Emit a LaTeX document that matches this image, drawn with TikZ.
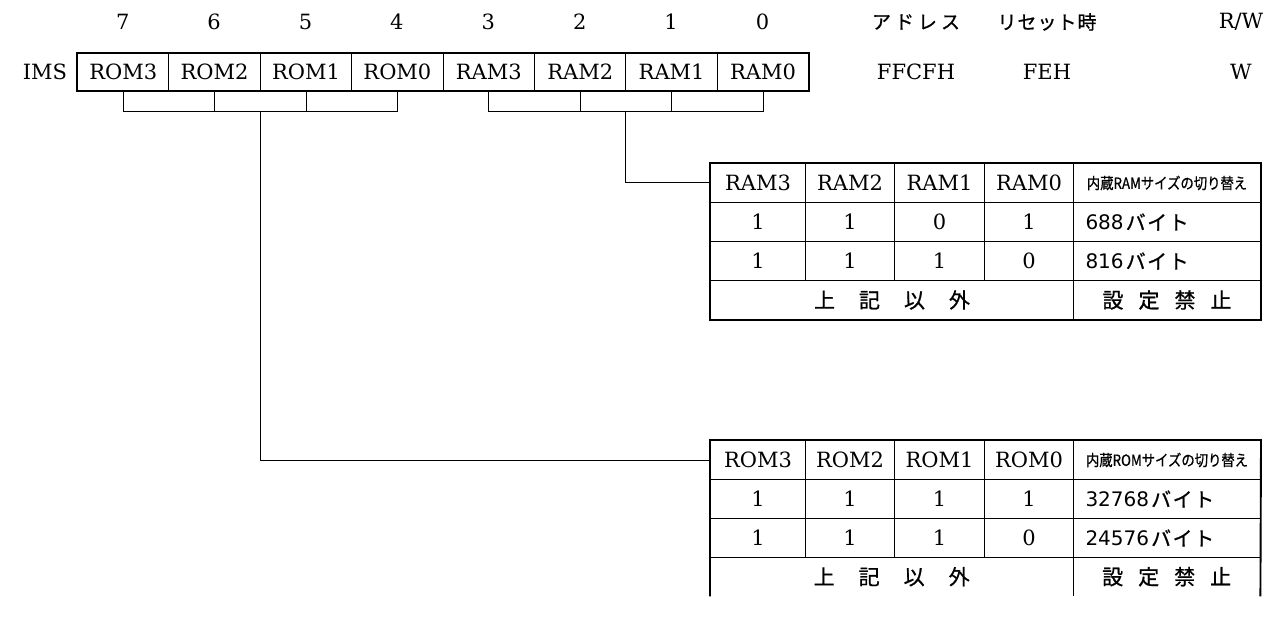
\documentclass[tikz,border=0pt]{standalone}
\usepackage{fontspec}
\setmainfont{DejaVu Serif}
\newfontfamily\jp{Noto Sans CJK JP}[FakeBold=0.8]
\newfontfamily\dsans{DejaVu Sans}
\usetikzlibrary{calc}
\newcommand{\byte}[1]{{\dsans\fontsize{20}{24}\selectfont #1}\hspace{2pt}バ\hspace{1.5pt}イ\hspace{1.5pt}ト}
\begin{document}
\begin{tikzpicture}[x=1pt,y=-1pt,
  every node/.style={inner sep=0pt, font=\fontsize{21}{24}\selectfont},
  reg/.style={draw, line width=1pt, minimum width=91.4pt, minimum height=37pt, anchor=north west},
  tcell/.style={draw, line width=1pt, minimum height=39pt, anchor=north west},
  ncell/.style={minimum height=39pt, anchor=north west},
  jpt/.style={font=\jp\fontsize{19}{22}\selectfont},
  jpb/.style={font=\jp\fontsize{21}{24}\selectfont},
  jph/.style={font=\jp\fontsize{15.5}{18}\selectfont},
  jpv/.style={font=\jp\fontsize{20}{24}\selectfont, text width=163pt, align=left, inner xsep=12pt},
  wire/.style={line width=1pt},
  frame/.style={line width=1.9pt}]
\useasboundingbox (0,0) rectangle (1276,617);

% register
\foreach \i/\t [count=\k from 0] in {7/ROM3,6/ROM2,5/ROM1,4/ROM0,3/RAM3,2/RAM2,1/RAM1,0/RAM0} {
  \node[reg] (r\i) at ({77+91.4*\k},53) {\t};
  \node (b\i) at ({122.7+91.4*\k},22) {\i};
}
\draw[frame] (r7.north west) rectangle (r0.south east);
\node (ims) at (45,72) {IMS};

% header info
\node[jpt] (addrh) at (916,22) {ア\hspace{4pt}ド\hspace{4pt}レ\hspace{4pt}ス};
\node[jpt] (rsth) at (1047,22) {リ\hspace{1pt}セ\hspace{1pt}ッ\hspace{1pt}ト\hspace{1pt}時};
\node (rwh) at (1241,22) {R/W};
\node (addr) at (916,72) {FFCFH};
\node (rst) at (1047,72) {FEH};
\node (rw) at (1241,72) {W};

% brackets
\coordinate (romj) at ($(r6.south)!0.5!(r5.south)+(0,21)$);
\coordinate (ramj) at ($(r2.south)!0.5!(r1.south)+(0,21)$);
\draw[wire] (r7.south) -- (r7.south |- romj) -- (r4.south |- romj) -- (r4.south);
\draw[wire] (r6.south) -- (r6.south |- romj);
\draw[wire] (r5.south) -- (r5.south |- romj);
\draw[wire] (r3.south) -- (r3.south |- ramj) -- (r0.south |- ramj) -- (r0.south);
\draw[wire] (r2.south) -- (r2.south |- ramj);
\draw[wire] (r1.south) -- (r1.south |- ramj);

% RAM table
\foreach \n/\x/\w in {3/710/95, 2/805/89, 1/894/90, 0/984/89}
  \node[tcell, minimum width=\w pt] (ramh\n) at (\x,163) {RAM\n};
\node[tcell, jph, minimum width=187pt] (ramhd) at (1073,163) {\scalebox{0.86}[1]{内蔵RAMサイズの切り替え}};
\foreach \r/\y/\a/\b/\c/\d/\v in {1/202/1/1/0/1/688, 2/241/1/1/1/0/816} {
  \node[tcell, minimum width=95pt] (ram\r a) at (710,\y) {\a};
  \node[tcell, minimum width=89pt] (ram\r b) at (805,\y) {\b};
  \node[tcell, minimum width=90pt] (ram\r c) at (894,\y) {\c};
  \node[tcell, minimum width=89pt] (ram\r d) at (984,\y) {\d};
  \node[tcell, jpv] (ram\r v) at (1073,\y) {\byte{\v}};
}
\node[tcell, jpb, minimum width=363pt] (ramx) at (710,280) {上\hspace{24pt}記\hspace{24pt}以\hspace{24pt}外};
\node[tcell, jpb, minimum width=187pt] (ramf) at (1073,280) {設\hspace{15pt}定\hspace{15pt}禁\hspace{15pt}止};
\draw[frame] (ramh3.north west) rectangle (ramf.south east);

% ROM table
\foreach \n/\x/\w in {3/710/95, 2/805/89, 1/894/90, 0/984/89}
  \node[tcell, minimum width=\w pt] (romh\n) at (\x,440) {ROM\n};
\node[tcell, jph, minimum width=187pt] (romhd) at (1073,440) {\scalebox{0.86}[1]{内蔵ROMサイズの切り替え}};
\foreach \r/\y/\a/\b/\c/\d/\v in {1/479/1/1/1/1/32768, 2/518/1/1/1/0/24576} {
  \node[tcell, minimum width=95pt] (rom\r a) at (710,\y) {\a};
  \node[tcell, minimum width=89pt] (rom\r b) at (805,\y) {\b};
  \node[tcell, minimum width=90pt] (rom\r c) at (894,\y) {\c};
  \node[tcell, minimum width=89pt] (rom\r d) at (984,\y) {\d};
  \node[tcell, jpv] (rom\r v) at (1073,\y) {\byte{\v}};
}
\node[ncell, jpb, minimum width=363pt] (romx) at (710,557) {上\hspace{24pt}記\hspace{24pt}以\hspace{24pt}外};
\node[ncell, jpb, minimum width=187pt] (romf) at (1073,557) {設\hspace{15pt}定\hspace{15pt}禁\hspace{15pt}止};
\draw[line width=1pt] (romf.north west) -- (romf.south west);
\draw[frame] (romx.south west) -- (romh3.north west) -- (romhd.north east) -- (romf.south east);

% connectors
\draw[wire] (romj) |- (romh3.west);
\draw[wire] (ramj) |- (ramh3.west);
\end{tikzpicture}
\end{document}
